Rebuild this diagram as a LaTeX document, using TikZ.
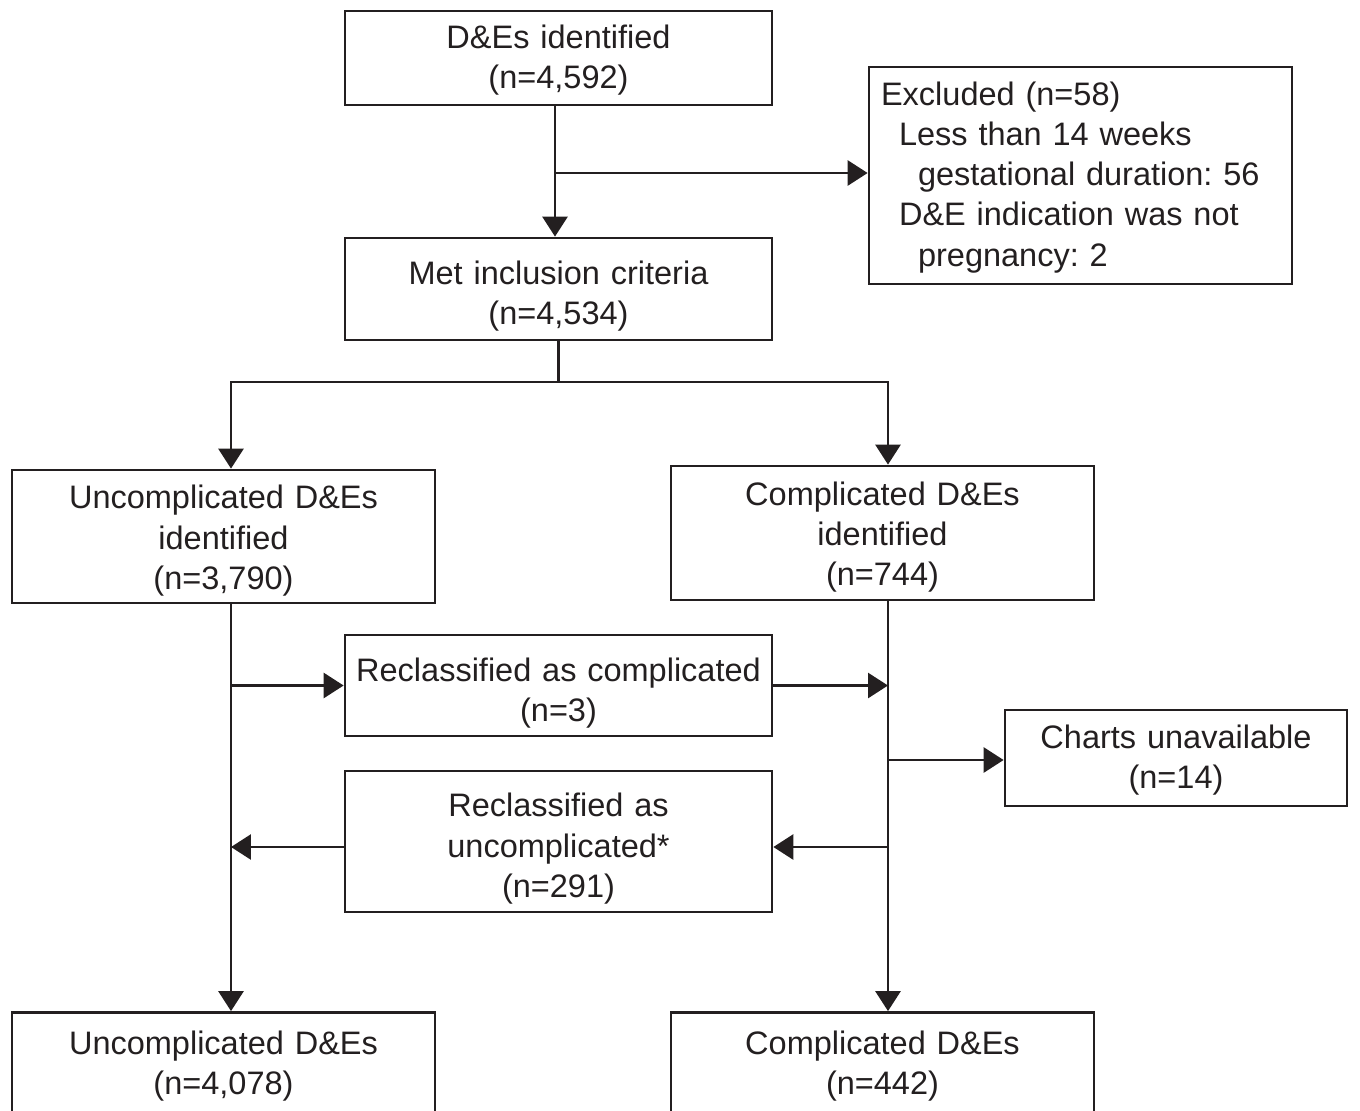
\documentclass[tikz,border=0pt]{standalone}
\usepackage{fontspec}
\setmainfont{Liberation Sans}
\frenchspacing
\usepackage{tikz}
\usetikzlibrary{arrows.meta}
\usetikzlibrary{calc}
\definecolor{inkgray}{HTML}{231F20}

\begin{document}
\begin{tikzpicture}[x=0.02cm,y=-0.02cm]
  \tikzset{>={Triangle[length=0.4cm,width=0.5cm]}}
  \tikzset{sink/.style={execute at begin node={\rule{0pt}{#1}}}}
  \tikzstyle{box}=[draw=inkgray,text=inkgray,line width=1.6pt,text width=8.3cm,align=center,inner sep=0pt,font=\fontsize{18.5}{22.8}\selectfont]
  \tikzstyle{link}=[->,draw=inkgray,line width=1.6pt]

  % FRAME
  \useasboundingbox (0,0) rectangle (1360,1110);
  \clip (0,0) rectangle (1360,1110);

  % BOXES
  \node[box,sink=15.7pt,minimum width=8.54cm,minimum height=1.88cm] (ident) at (558.5,58) {D\&Es identified\\(n=4,592)};
  \node[box,sink=15.7pt,minimum width=8.46cm,minimum height=4.34cm,text width=7.98cm,inner xsep=0.24cm,align=left] (excl) at (1080.5,175.5)
    {Excluded (n=58)\\\hspace*{0.36cm}Less than 14 weeks\\\hspace*{0.74cm}gestational duration: 56\\\hspace*{0.36cm}D\&E indication was not\\\hspace*{0.74cm}pregnancy: 2};
  \node[box,sink=21.5pt,minimum width=8.54cm,minimum height=2.04cm] (incl) at (558.5,289) {Met inclusion criteria\\(n=4,534)};
  \node[box,sink=18.1pt,minimum width=8.46cm,minimum height=2.66cm] (uncomp) at (223.5,536.5) {Uncomplicated D\&Es\\identified\\(n=3,790)};
  \node[box,sink=18.1pt,minimum width=8.46cm,minimum height=2.68cm] (comp) at (882.5,533) {Complicated D\&Es\\identified\\(n=744)};
  \node[box,sink=21.5pt,minimum width=8.54cm,minimum height=2.02cm] (toComp) at (558.5,685.5) {Reclassified as complicated\\(n=3)};
  \node[box,sink=15.7pt,minimum width=6.84cm,minimum height=1.92cm,text width=6.5cm] (charts) at (1176,758) {Charts unavailable\\(n=14)};
  \node[box,sink=21.5pt,minimum width=8.54cm,minimum height=2.82cm] (toUncomp) at (558.5,841.5) {Reclassified as\\uncomplicated*\\(n=291)};
  \node[box,sink=14.5pt,minimum width=8.46cm,minimum height=2.1cm] (uncompFinal) at (223.5,1065) {Uncomplicated D\&Es\\(n=4,078)};
  \node[box,sink=14.5pt,minimum width=8.46cm,minimum height=2.1cm] (compFinal) at (882.5,1065) {Complicated D\&Es\\(n=442)};

  % CONNECTORS
  \coordinate (lv) at (231,0);
  \coordinate (rv) at (888,0);
  \coordinate (exclSplit) at (555,173);
  \coordinate (fork) at (559,382);

  \draw[link] (ident.south -| exclSplit) -- (incl.north -| exclSplit);
  \draw[link] (exclSplit) -- (exclSplit -| excl.west);
  \draw[link] (incl.south) -- (incl.south |- fork) -| (lv |- uncomp.north);
  \draw[link] (incl.south |- fork) -| (rv |- comp.north);
  \draw[link] (lv |- uncomp.south) -- (lv |- uncompFinal.north);
  \draw[link] (rv |- comp.south) -- (rv |- compFinal.north);
  \draw[link] (lv |- toComp.west) -- (toComp.west);
  \draw[link] (toComp.east) -- (rv |- toComp.east);
  \draw[link] ($(rv |- charts.west)+(0,2)$) -- ($(charts.west)+(0,2)$);
  \draw[link] ($(rv |- toUncomp.east)+(0,5.5)$) -- ($(toUncomp.east)+(0,5.5)$);
  \draw[link] ($(toUncomp.west)+(0,5.5)$) -- ($(lv |- toUncomp.west)+(0,5.5)$);
\end{tikzpicture}
\end{document}
